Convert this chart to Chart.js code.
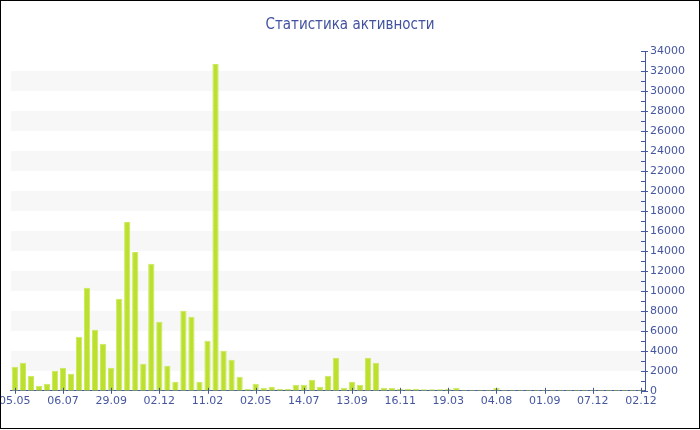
<!DOCTYPE html>
<html>
<head>
<meta charset="utf-8">
<script src="https://cdn.jsdelivr.net/npm/chart.js@4.4.1/dist/chart.umd.min.js"></script>
<style>
  body { margin: 0; background: #fff; }
  #frame { position: relative; width: 700px; height: 430px; overflow: hidden; background: #fff; }
  #wrap { position: absolute; left: -5px; top: 0; width: 705px; height: 430px; }
  #border { position: absolute; left: 0; top: 0; width: 700px; height: 429px; box-sizing: border-box;
            border: 1px solid #000; pointer-events: none; }
</style>
</head>
<body>
<div id="frame">
  <div id="wrap"><canvas id="activity" width="705" height="430"></canvas></div>
  <div id="border"></div>
</div>
<script>
// Статистика активности - data
var tickLabels = ["05.05", "06.07", "29.09", "02.12", "11.02", "02.05", "14.07",
                  "13.09", "16.11", "19.03", "04.08", "01.09", "07.12", "02.12"];

var activity = [
  2400, 2800, 1500, 500, 700, 2000, 2300, 1700, 5400, 10300,
  6100, 4700, 2300, 9200, 16900, 13900, 2700, 12700, 6900, 2500,
  900, 8000, 7400, 900, 5000, 32700, 4000, 3100, 1400, 200,
  700, 300, 400, 200, 200, 600, 600, 1100, 400, 1500,
  3300, 300, 900, 600, 3300, 2800, 300, 300, 200, 200,
  200, 150, 150, 150, 200, 300, 100, 100, 100, 100,
  300, 100, 100, 100, 100, 100, 100, 100, 100, 100,
  100, 100, 100, 100, 100, 100, 100, 100, 100
];

var labelEvery = 6;
var yMax = 34000;

// one category per bar, named only every 6th
var categories = activity.map(function(v, i) {
    return i % labelEvery === 0 ? tickLabels[i / labelEvery] : "";
});

var axisColor = "#4556a0";

// light grey bands on the plot, every other 2000 step
var bandsPlugin = {
    id: "bands",
    beforeDatasetsDraw: function(chart) {
        var ctx = chart.ctx, area = chart.chartArea, y = chart.scales.y;
        ctx.save();
        ctx.fillStyle = "#f7f7f7";
        for (var v = 2000; v < yMax; v += 4000) {
            var top = y.getPixelForValue(v + 2000);
            var bottom = y.getPixelForValue(v);
            ctx.fillRect(area.left, top, area.right - area.left, bottom - top);
        }
        ctx.restore();
    }
};

// small tick marks on both axes
var ticksPlugin = {
    id: "tickMarks",
    afterDraw: function(chart) {
        var ctx = chart.ctx, x = chart.scales.x, y = chart.scales.y;
        ctx.save();
        ctx.strokeStyle = axisColor;
        ctx.lineWidth = 1;
        ctx.beginPath();
        y.ticks.forEach(function(t, i) {
            var py = Math.round(y.getPixelForTick(i)) + 0.5;
            var major = t.value % 2000 === 0;
            ctx.moveTo(y.left - 4, py);
            ctx.lineTo(y.left + (major ? 3 : 0), py);
        });
        x.ticks.forEach(function(t, i) {
            if (i % labelEvery !== 0) return;
            var px = Math.round(x.getPixelForTick(i)) + 0.5;
            ctx.moveTo(px, x.top - 3);
            ctx.lineTo(px, x.top + 3);
        });
        ctx.stroke();
        ctx.restore();
    }
};

var ctx = document.getElementById("activity");
var chart = new Chart(ctx, {
    type: "bar",
    data: {
        labels: categories,
        datasets: [{
            label: "Активность",
            data: activity,
            backgroundColor: "#bbe02e",
            borderColor: "#cbe95e",
            borderWidth: 1,
            borderSkipped: "bottom",
            barPercentage: 0.78,
            categoryPercentage: 1
        }]
    },
    options: {
        responsive: false,
        animation: false,
        devicePixelRatio: 1,
        layout: { padding: { left: 15, right: 10, top: 0, bottom: 18 } },
        plugins: {
            legend: { display: false },
            tooltip: { enabled: false },
            title: {
                display: true,
                text: "Статистика активности",
                color: "#4152a0",
                font: { family: "'DejaVu Sans Condensed', 'DejaVu Sans'", size: 15, weight: "normal" },
                padding: { top: 16, bottom: 17 }
            }
        },
        scales: {
            x: {
                offset: true,
                grid: { display: false, drawTicks: false },
                border: { display: true, color: axisColor, width: 1 },
                ticks: {
                    autoSkip: false,
                    maxRotation: 0,
                    minRotation: 0,
                    padding: 4,
                    color: axisColor,
                    font: { family: "DejaVu Sans", size: 11 }
                }
            },
            y: {
                position: "right",
                min: 0,
                max: yMax,
                grid: { display: false, drawTicks: false },
                border: { display: true, color: axisColor, width: 1 },
                ticks: {
                    stepSize: 1000,
                    autoSkip: false,
                    padding: 5,
                    color: axisColor,
                    font: { family: "DejaVu Sans", size: 11 },
                    callback: function(v) { return v % 2000 === 0 ? String(v) : ""; }
                }
            }
        }
    },
    plugins: [bandsPlugin, ticksPlugin]
});
</script>
</body>
</html>
